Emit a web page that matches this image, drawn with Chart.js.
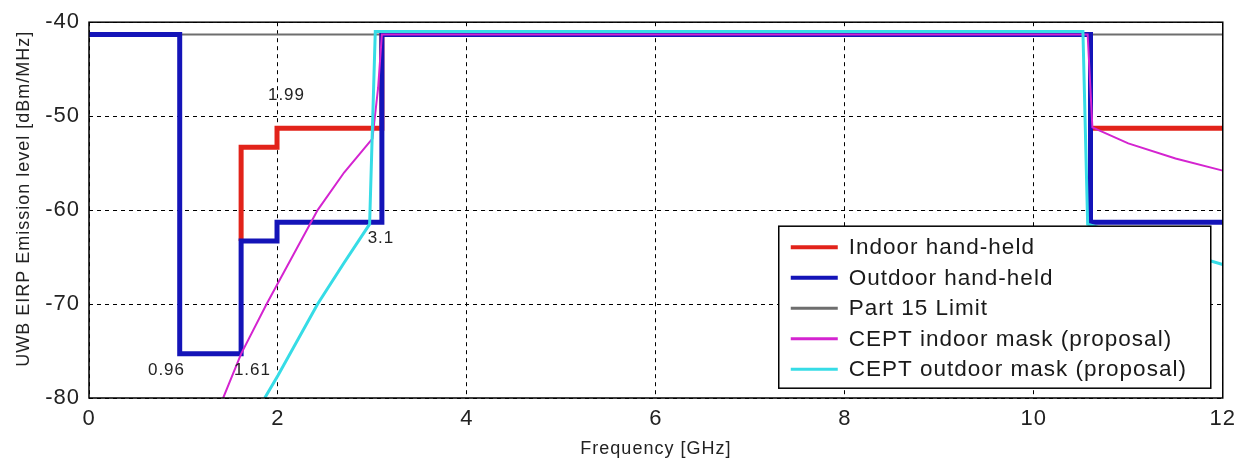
<!DOCTYPE html>
<html>
<head>
<meta charset="utf-8">
<script src="https://cdn.jsdelivr.net/npm/chart.js@4.4.1/dist/chart.umd.min.js"></script>
<style>
  html, body { margin: 0; padding: 0; background: #fff; }
  #wrap { width: 1243px; height: 463px; }
</style>
</head>
<body>
<div id="wrap"><canvas id="uwb" width="1243" height="463"></canvas></div>
<script>
// Frequency [GHz] / level [dBm/MHz]
const part15X = [0, 12];
const part15Y = [-41.3, -41.3];

const indoorX = [1.61, 1.61, 1.99, 1.99, 3.1, 3.1, 10.6, 10.6, 12];
const indoorY = [-63.3, -53.3, -53.3, -51.3, -51.3, -41.3, -41.3, -51.3, -51.3];

const outdoorX = [0, 0.96, 0.96, 1.61, 1.61, 1.99, 1.99, 3.1, 3.1, 10.6, 10.6, 12];
const outdoorY = [-41.3, -41.3, -75.3, -75.3, -63.3, -63.3, -61.3, -61.3, -41.3, -41.3, -61.3, -61.3];

const ceptInX = [1.42, 1.61, 1.88, 2.15, 2.42, 2.7, 3.0, 3.06, 3.1, 10.57, 10.62, 11.0, 11.5, 12];
const ceptInY = [-80, -75.3, -70, -65, -60, -56, -52.4, -47, -41.3, -41.3, -51.2, -52.9, -54.5, -55.8];

const ceptOutX = [1.86, 2.0, 2.42, 2.7, 2.97, 3.03, 10.52, 10.57, 12];
const ceptOutY = [-80, -77.6, -70, -65.6, -61.5, -41, -41, -61.5, -65.8];

const xTicks = [0, 2, 4, 6, 8, 10, 12];
const yTicks = [-80, -70, -60, -50, -40];

const noteText = ['1.99', '0.96', '1.61', '3.1'];
const noteX = [2.09, 0.82, 1.73, 3.09];
const noteY = [-47.8, -77.1, -77.1, -63.0];

const legendNames = ['Indoor hand-held', 'Outdoor hand-held', 'Part 15 Limit',
  'CEPT indoor mask (proposal)', 'CEPT outdoor mask (proposal)'];
const yTitle = 'UWB EIRP Emission level [dBm/MHz]';

const pts = (xs, ys) => xs.map((v, i) => ({ x: v, y: ys[i] }));
const FONT = '"Liberation Sans", Arial, sans-serif';

const series = [
  { label: legendNames[0], data: pts(indoorX, indoorY), borderColor: '#e2231a', borderWidth: 5, order: 3 },
  { label: legendNames[1], data: pts(outdoorX, outdoorY), borderColor: '#1414b8', borderWidth: 5, order: 2 },
  { label: legendNames[2], data: pts(part15X, part15Y), borderColor: '#6e6e6e', borderWidth: 2, order: 4 },
  { label: legendNames[3], data: pts(ceptInX, ceptInY), borderColor: '#d424d0', borderWidth: 2, order: 1 },
  { label: legendNames[4], data: pts(ceptOutX, ceptOutY), borderColor: '#36dce6', borderWidth: 3, order: 0 }
];

const overlay = {
  id: 'overlay',
  beforeDraw(chart) {
    // the original text is set a little wide
    chart.ctx.letterSpacing = '1px';
  },
  afterDatasetsDraw(chart) {
    const { ctx, chartArea: a, scales: { x, y } } = chart;
    ctx.save();

    ctx.font = '17px ' + FONT;
    ctx.fillStyle = '#222';
    ctx.textAlign = 'center';
    ctx.textBaseline = 'middle';
    noteText.forEach((t, i) => ctx.fillText(t, x.getPixelForValue(noteX[i]), y.getPixelForValue(noteY[i])));

    ctx.strokeStyle = '#000';
    ctx.lineWidth = 1.5;
    ctx.strokeRect(a.left, a.top, a.right - a.left, a.bottom - a.top);

    // y title, drawn by hand so it can sit a bit above centre like the original
    ctx.save();
    ctx.translate(24, a.top + (a.bottom - a.top) * 0.47);
    ctx.rotate(-Math.PI / 2);
    ctx.font = '18px ' + FONT;
    ctx.fillText(yTitle, 0, 0);
    ctx.restore();

    // legend box, lower right of the plot
    const bx = a.right - 444, by = a.top + 204, bw = 432, bh = 162;
    ctx.fillStyle = '#fff';
    ctx.fillRect(bx, by, bw, bh);
    ctx.lineWidth = 1.5;
    ctx.strokeRect(bx, by, bw, bh);
    ctx.font = '22.5px ' + FONT;
    ctx.textAlign = 'left';
    series.forEach((s, i) => {
      const ry = by + 21 + i * 30.5;
      ctx.strokeStyle = s.borderColor;
      ctx.lineWidth = Math.max(3, s.borderWidth - 1);
      ctx.beginPath();
      ctx.moveTo(bx + 12, ry);
      ctx.lineTo(bx + 59, ry);
      ctx.stroke();
      ctx.fillStyle = '#1a1a1a';
      ctx.fillText(s.label, bx + 70, ry + 1);
    });
    ctx.restore();
  }
};

new Chart(document.getElementById('uwb'), {
  type: 'line',
  data: {
    datasets: series.map((s) => ({ ...s, pointRadius: 0, tension: 0, fill: false }))
  },
  options: {
    responsive: false,
    animation: false,
    layout: { padding: { top: 19, right: 16, left: 0, bottom: 0 } },
    plugins: { legend: { display: false }, tooltip: { enabled: false } },
    scales: {
      x: {
        type: 'linear', min: 0, max: 12,
        afterBuildTicks: (s) => { s.ticks = xTicks.map((v) => ({ value: v })); },
        afterFit: (s) => { s.height = 65; },
        grid: { color: '#000', lineWidth: 1, drawTicks: false },
        border: { display: false, dash: [4, 4] },
        ticks: { color: '#222', padding: 8, font: { family: FONT, size: 22 } },
        title: { display: true, text: 'Frequency [GHz]', color: '#222',
          font: { family: FONT, size: 18 }, padding: { top: 0, bottom: 3 } }
      },
      y: {
        type: 'linear', min: -80, max: -40,
        afterBuildTicks: (s) => { s.ticks = yTicks.map((v) => ({ value: v })); },
        afterFit: (s) => { s.width = 89; },
        grid: { color: '#000', lineWidth: 1, drawTicks: false },
        border: { display: false, dash: [4, 4] },
        ticks: { color: '#222', padding: 9, font: { family: FONT, size: 22 } }
      }
    }
  },
  plugins: [overlay]
});
</script>
</body>
</html>
